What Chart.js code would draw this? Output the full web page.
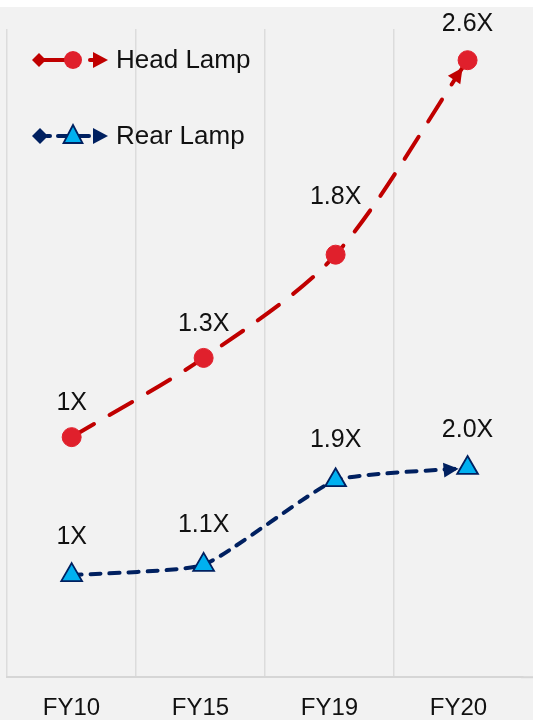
<!DOCTYPE html>
<html lang="en">
<head>
<meta charset="UTF-8">
<title>Lamp growth</title>
<script src="https://cdn.jsdelivr.net/npm/chart.js"></script>
<style>
  body { margin: 0; background: #fff; }
  .wrap { position: absolute; left: 0; top: 7px; width: 533px; height: 713px; background: #f2f2f2; }
</style>
</head>
<body>
<div class="wrap"><canvas id="myChart" width="533" height="713"></canvas></div>
<script>
// data
const years = ['FY10', 'FY15', 'FY19', 'FY20'];
const headLamp = [1, 1.33, 1.76, 2.57];
const rearLamp = [1, 1.1, 1.93, 2.05];
const headText = ['1X', '1.3X', '1.8X', '2.6X'];
const rearText = ['1X', '1.1X', '1.9X', '2.0X'];

const RED = '#c00000';
const RED_DOT = '#e0202c';
const NAVY = '#002060';
const CYAN = '#00b0f0';
const FONT = '"Liberation Sans", Arial, sans-serif';

// how far above each point its label sits
const headLift = [34, 34, 58, 36];
const rearLift = [38, 40, 40, 38];

function arrowHead(ctx, tipX, tipY, ang, len, half, color) {
    ctx.save();
    ctx.translate(tipX, tipY);
    ctx.rotate(ang);
    ctx.beginPath();
    ctx.moveTo(0, 0);
    ctx.lineTo(-len, -half);
    ctx.lineTo(-len, half);
    ctx.closePath();
    ctx.fillStyle = color;
    ctx.fill();
    ctx.restore();
}

const decor = {
    id: 'decor',
    beforeDatasetsDraw(chart) {
        const ctx = chart.ctx;
        chart.data.datasets.forEach((ds, i) => {
            const pts = chart.getDatasetMeta(i).data;
            const last = pts[pts.length - 1];
            let fx = last.cp1x, fy = last.cp1y;
            if (fx === undefined || (fx === last.x && fy === last.y)) {
                fx = pts[pts.length - 2].x; fy = pts[pts.length - 2].y;
            }
            const ang = Math.atan2(last.y - fy, last.x - fx);
            const gap = ds.arrowGap;
            arrowHead(ctx, last.x - Math.cos(ang) * gap, last.y - Math.sin(ang) * gap, ang, 15, 7.5, ds.borderColor);
        });
    },
    afterDatasetsDraw(chart) {
        const ctx = chart.ctx;
        ctx.save();
        ctx.font = '25px ' + FONT;
        ctx.fillStyle = '#111';
        ctx.textAlign = 'center';
        ctx.textBaseline = 'middle';
        chart.data.datasets.forEach((ds, i) => {
            chart.getDatasetMeta(i).data.forEach((p, j) => {
                ctx.fillText(ds.tags[j], p.x, p.y - ds.lift[j]);
            });
        });
        ctx.restore();
    },
    afterDraw(chart) {
        const ctx = chart.ctx;
        const a = chart.chartArea;
        ctx.save();
        // axis line runs on to the right edge
        ctx.strokeStyle = '#d6d6d6'; ctx.lineWidth = 2;
        ctx.beginPath(); ctx.moveTo(a.right - 2, a.bottom); ctx.lineTo(chart.width, a.bottom); ctx.stroke();

        // head lamp legend row
        let y = 53;
        ctx.lineCap = 'round';
        ctx.strokeStyle = RED; ctx.fillStyle = RED; ctx.lineWidth = 4;
        ctx.beginPath(); ctx.moveTo(32, y); ctx.lineTo(39, y - 7); ctx.lineTo(46, y); ctx.lineTo(39, y + 7); ctx.closePath(); ctx.fill();
        ctx.beginPath(); ctx.moveTo(40, y); ctx.lineTo(70, y); ctx.stroke();
        ctx.beginPath(); ctx.moveTo(90, y); ctx.lineTo(94, y); ctx.stroke();
        arrowHead(ctx, 108, y, 0, 15, 8, RED);
        ctx.beginPath(); ctx.arc(73, y, 9, 0, Math.PI * 2); ctx.fillStyle = RED_DOT; ctx.fill();

        // rear lamp legend row
        y = 129;
        ctx.strokeStyle = NAVY; ctx.fillStyle = NAVY;
        ctx.beginPath(); ctx.moveTo(32, y); ctx.lineTo(40, y - 8); ctx.lineTo(48, y); ctx.lineTo(40, y + 8); ctx.closePath(); ctx.fill();
        ctx.beginPath(); ctx.moveTo(47, y); ctx.lineTo(50, y); ctx.stroke();
        ctx.beginPath(); ctx.moveTo(58, y); ctx.lineTo(89, y); ctx.stroke();
        arrowHead(ctx, 108, y, 0, 15, 8, NAVY);
        ctx.beginPath(); ctx.moveTo(73, y - 11); ctx.lineTo(82.5, y + 7); ctx.lineTo(63.5, y + 7); ctx.closePath();
        ctx.fillStyle = CYAN; ctx.fill(); ctx.lineWidth = 1.8; ctx.strokeStyle = NAVY; ctx.stroke();

        ctx.font = '26px ' + FONT;
        ctx.fillStyle = '#111';
        ctx.textAlign = 'left';
        ctx.textBaseline = 'middle';
        ctx.fillText('Head Lamp', 116, 54);
        ctx.fillText('Rear Lamp', 116, 130);
        ctx.restore();
    }
};

const ctx = document.getElementById('myChart').getContext('2d');
const myChart = new Chart(ctx, {
    type: 'line',
    data: {
        labels: years,
        datasets: [{
            label: 'Head Lamp',
            data: headLamp.map((v, i) => ({ x: i, y: v })),
            tags: headText,
            lift: headLift,
            arrowGap: 9,
            xAxisID: 'x2',
            yAxisID: 'yHead',
            borderColor: RED,
            borderWidth: 4,
            borderDash: [26, 18],
            borderCapStyle: 'round',
            tension: 0.3,
            pointStyle: 'circle',
            pointRadius: 9.5,
            pointBackgroundColor: RED_DOT,
            pointBorderColor: RED_DOT,
            pointBorderWidth: 1
        }, {
            label: 'Rear Lamp',
            data: rearLamp.map((v, i) => ({ x: i, y: v })),
            tags: rearText,
            lift: rearLift,
            arrowGap: 9,
            xAxisID: 'x2',
            yAxisID: 'yRear',
            borderColor: NAVY,
            borderWidth: 4,
            borderDash: [10, 9],
            borderCapStyle: 'round',
            tension: 0.15,
            pointStyle: 'triangle',
            pointRadius: 12,
            pointBackgroundColor: CYAN,
            pointBorderColor: NAVY,
            pointBorderWidth: 1.8
        }]
    },
    options: {
        responsive: false,
        animation: false,
        layout: { autoPadding: false, padding: { left: 7, right: 10, top: 22, bottom: -20 } },
        plugins: { legend: { display: false }, tooltip: { enabled: false } },
        scales: {
            x: {
                type: 'category',
                offset: true,
                grid: {
                    offset: true,
                    drawTicks: false,
                    lineWidth: 1.5,
                    color: c => c.type === 'tick' ? '#dcdcdc' : 'rgba(0,0,0,0)'
                },
                border: { display: true, color: '#d6d6d6', width: 2 },
                ticks: { color: '#111', padding: 17, font: { family: FONT, size: 24 } }
            },
            x2: { type: 'linear', display: false, min: -0.49, max: 3.42 },
            yHead: { type: 'linear', display: false, min: 0, max: 2.7 },
            yRear: { type: 'linear', display: false, min: 0, max: 6.35 }
        }
    },
    plugins: [decor]
});
</script>
</body>
</html>
